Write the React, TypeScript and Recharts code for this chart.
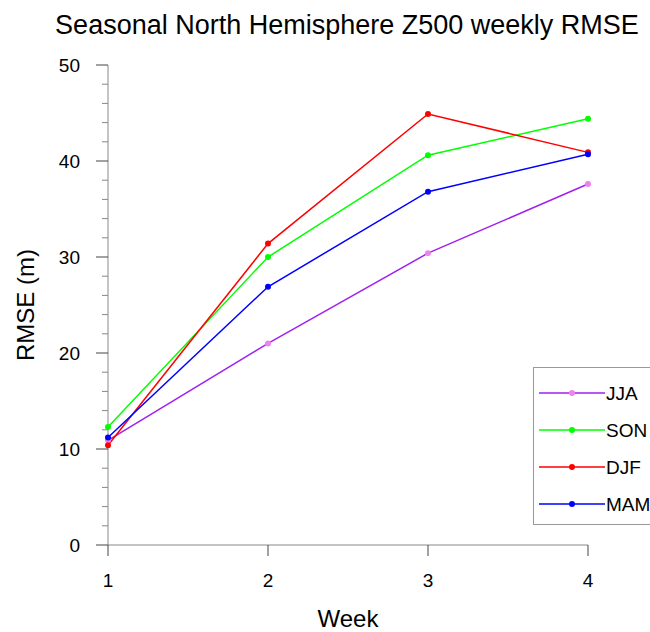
import React from "react";
import { LineChart, Line, XAxis, YAxis } from "recharts";

const weeks = [1, 2, 3, 4];
const jja = [10.9, 21.0, 30.4, 37.6];
const son = [12.3, 30.0, 40.6, 44.4];
const djf = [10.4, 31.4, 44.9, 40.9];
const mam = [11.2, 26.9, 36.8, 40.7];
const yTicks = [0, 2, 4, 6, 8, 10, 12, 14, 16, 18, 20, 22, 24, 26, 28, 30, 32, 34, 36, 38, 40, 42, 44, 46, 48, 50];

const data = weeks.map((w, i) => ({ week: w, JJA: jja[i], SON: son[i], DJF: djf[i], MAM: mam[i] }));

const series = [
  { key: "JJA", line: "#a020f0", dot: "#ee82ee" },
  { key: "SON", line: "#00ff00", dot: "#00ff00" },
  { key: "DJF", line: "#ff0000", dot: "#ff0000" },
  { key: "MAM", line: "#0000ff", dot: "#0000ff" },
];

const FONT = "'Liberation Sans', Arial, Helvetica, sans-serif";

// fixed to the viewport so chart coords == page coords and nothing scrolls
const W = 650;
const H = 632;

const YTick = (props: any) => {
  const { x, y, payload } = props;
  const major = payload.value % 10 === 0;
  return (
    <g>
      <line x1={x - (major ? 12 : 6)} x2={x} y1={y} y2={y} stroke={major ? "#444" : "#888"} />
      {major && (
        <text x={x - 28} y={y + 7} textAnchor="end" fontSize={19} fontFamily={FONT} fill="#000">
          {payload.value}
        </text>
      )}
    </g>
  );
};

const XTick = (props: any) => {
  const { x, y, payload } = props;
  return (
    <g>
      <line x1={x} x2={x} y1={y} y2={y + 11} stroke="#444" />
      <text x={x} y={y + 42} textAnchor="middle" fontSize={19} fontFamily={FONT} fill="#000">
        {payload.value}
      </text>
    </g>
  );
};

// legend drawn as a plain overlay so it does not shrink the plot area
const LegendBox = () => (
  <div
    style={{
      position: "absolute",
      left: 533,
      top: 367,
      width: 140,
      height: 158,
      border: "1px solid #999",
      background: "#fff",
      boxSizing: "border-box",
    }}
  >
    <svg width={138} height={156} style={{ display: "block" }}>
      {series.map((s, i) => {
        const cy = 25 + i * 37;
        return (
          <g key={s.key}>
            <line x1={5} x2={71} y1={cy} y2={cy} stroke={s.line} strokeWidth={1.5} />
            <circle cx={38} cy={cy} r={3} fill={s.dot} />
            <text x={72} y={cy + 7} fontSize={19} fontFamily={FONT} fill="#000">
              {s.key}
            </text>
          </g>
        );
      })}
    </svg>
  </div>
);

export default function App() {
  return (
    <div
      style={{
        position: "fixed",
        left: 0,
        top: 0,
        width: W,
        height: H,
        overflow: "hidden",
        background: "#fff",
      }}
    >
      <LineChart width={W} height={H} data={data} margin={{ top: 65, right: 62, left: 48, bottom: 47 }}>
        <text x={347} y={34} textAnchor="middle" fontSize={27} fontFamily={FONT} fill="#000">
          Seasonal North Hemisphere Z500 weekly RMSE
        </text>
        <text
          x={34}
          y={305}
          transform="rotate(-90 34 305)"
          textAnchor="middle"
          fontSize={24}
          fontFamily={FONT}
          fill="#000"
        >
          RMSE (m)
        </text>
        <text x={348} y={627} textAnchor="middle" fontSize={24} fontFamily={FONT} fill="#000">
          Week
        </text>
        <XAxis
          dataKey="week"
          type="number"
          domain={[1, 4]}
          ticks={weeks}
          height={40}
          tickSize={0}
          tickMargin={0}
          tickLine={false}
          axisLine={{ stroke: "#888" }}
          tick={<XTick />}
        />
        <YAxis
          type="number"
          domain={[0, 50]}
          ticks={yTicks}
          interval={0}
          width={60}
          tickSize={0}
          tickMargin={0}
          tickLine={false}
          axisLine={{ stroke: "#888" }}
          tick={<YTick />}
        />
        {series.map((s) => (
          <Line
            key={s.key}
            dataKey={s.key}
            stroke={s.line}
            strokeWidth={1.5}
            dot={{ r: 3, fill: s.dot, stroke: s.dot, strokeWidth: 0 }}
            isAnimationActive={false}
          />
        ))}
      </LineChart>
      <LegendBox />
    </div>
  );
}
